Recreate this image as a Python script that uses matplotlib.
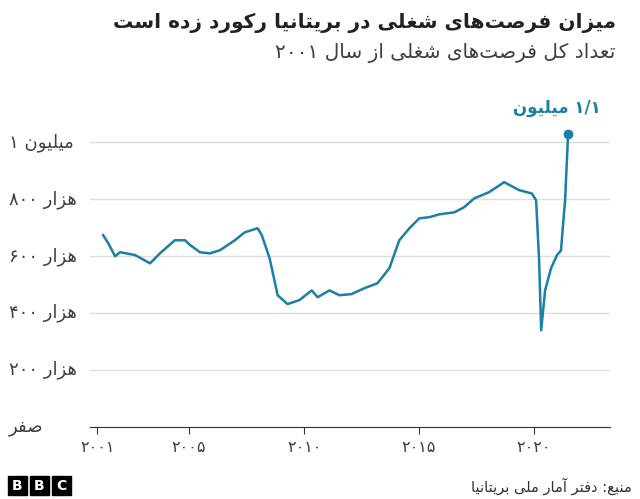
import matplotlib
matplotlib.use("Agg")
import matplotlib.pyplot as plt
import matplotlib.transforms as mtransforms
from matplotlib.patches import Rectangle

plt.rcParams['font.family'] = ['DejaVu Sans']

# === Data (vacancies, thousands) ===
years = [2001.26, 2001.48, 2001.78, 2002.0, 2002.65, 2003.3, 2003.73, 2004.38, 2004.82,
         2005.03, 2005.47, 2005.9, 2006.34, 2006.99, 2007.42, 2007.98, 2008.16, 2008.5,
         2008.85, 2009.28, 2009.8, 2010.33, 2010.59, 2011.1, 2011.54, 2012.06, 2012.63,
         2013.19, 2013.71, 2014.14, 2014.58, 2015.01, 2015.45, 2015.88, 2016.53, 2016.96,
         2017.4, 2018.05, 2018.7, 2019.35, 2019.91, 2020.09, 2020.22, 2020.31, 2020.48,
         2020.74, 2021.0, 2021.17, 2021.35, 2021.48]
vacancies = [674, 646, 600, 614, 604, 575, 610, 656, 656,
             640, 614, 610, 621, 656, 684, 698, 674, 593,
             463, 432, 446, 480, 456, 480, 463, 467, 488,
             505, 558, 656, 698, 733, 737, 747, 754, 772,
             803, 825, 860, 832, 820, 796, 586, 340, 480,
             558, 604, 620, 796, 1028]
x_ticks = [2001, 2005, 2010, 2015, 2020]
x_labels = ["۲۰۰۱", "۲۰۰۵", "۲۰۱۰", "۲۰۱۵", "۲۰۲۰"]
y_ticks = [0, 200, 400, 600, 800, 1000]

TITLE = "میزان فرصت‌های شغلی در بریتانیا رکورد زده است"
SUBTITLE = "تعداد کل فرصت‌های شغلی از سال ۲۰۰۱"
SOURCE = "منبع: دفتر آمار ملی بریتانیا"
PEAK = "۱/۱ میلیون"

# === minimal Persian shaping (presentation forms) ===
# letter: (isolated, final, initial, medial); None for right-joining only
FORMS = {
    'ا': ('\uFE8D', '\uFE8E', None, None),
    'آ': ('\uFE81', '\uFE82', None, None),
    'ب': ('\uFE8F', '\uFE90', '\uFE91', '\uFE92'),
    'ت': ('\uFE95', '\uFE96', '\uFE97', '\uFE98'),
    'د': ('\uFEA9', '\uFEAA', None, None),
    'ر': ('\uFEAD', '\uFEAE', None, None),
    'ز': ('\uFEAF', '\uFEB0', None, None),
    'س': ('\uFEB1', '\uFEB2', '\uFEB3', '\uFEB4'),
    'ش': ('\uFEB5', '\uFEB6', '\uFEB7', '\uFEB8'),
    'ص': ('\uFEB9', '\uFEBA', '\uFEBB', '\uFEBC'),
    'ع': ('\uFEC9', '\uFECA', '\uFECB', '\uFECC'),
    'غ': ('\uFECD', '\uFECE', '\uFECF', '\uFED0'),
    'ف': ('\uFED1', '\uFED2', '\uFED3', '\uFED4'),
    'ک': ('\uFED9', '\uFEDA', '\uFEDB', '\uFEDC'),
    'ل': ('\uFEDD', '\uFEDE', '\uFEDF', '\uFEE0'),
    'م': ('\uFEE1', '\uFEE2', '\uFEE3', '\uFEE4'),
    'ن': ('\uFEE5', '\uFEE6', '\uFEE7', '\uFEE8'),
    'ه': ('\uFEE9', '\uFEEA', '\uFEEB', '\uFEEC'),
    'و': ('\uFEED', '\uFEEE', None, None),
    'ی': ('\uFEEF', '\uFEF0', '\uFEF3', '\uFEF4'),
}
DIGITS = set("۰۱۲۳۴۵۶۷۸۹/")


def joins_left(c):
    return c in FORMS and FORMS[c][2] is not None


def fa(text):
    out = []
    for i, c in enumerate(text):
        if c == '\u200c':
            continue
        if c not in FORMS:
            out.append(c)
            continue
        prev = text[i - 1] if i > 0 else ''
        nxt = text[i + 1] if i + 1 < len(text) else ''
        r = joins_left(prev)
        l = joins_left(c) and nxt in FORMS
        iso, fin, ini, med = FORMS[c]
        if r and l:
            out.append(med)
        elif r:
            out.append(fin)
        elif l:
            out.append(ini)
        else:
            out.append(iso)
    vis = out[::-1]
    # keep digit runs left-to-right
    res, run = [], []
    for c in vis:
        if c in DIGITS:
            run.append(c)
        else:
            res.extend(run[::-1]); run = []
            res.append(c)
    res.extend(run[::-1])
    return ''.join(res)


LINE = '#1b7fa6'
GRID = '#dddddd'
TXT = '#404040'

fig = plt.figure(figsize=(6.4, 4.99), dpi=100)
ax = fig.add_axes([0.141, 0.144, 0.812, 0.628])
ax.plot(years, vacancies, color=LINE, linewidth=1.8, solid_joinstyle='round')
ax.plot(years[-1], vacancies[-1], 'o', color=LINE, markersize=6, clip_on=False)
ax.text(years[-1] - 0.5, vacancies[-1] + 60, fa(PEAK), color=LINE, fontsize=12,
        fontweight='bold', ha='center', va='bottom')

ax.set_xlim(2000.7, 2023.3)
ax.set_ylim(0, 1100)
ax.set_yticks(y_ticks)
ax.yaxis.grid(True, color=GRID, linewidth=1)
ax.set_axisbelow(True)
ax.tick_params(axis='y', length=0, labelleft=False)
ax.set_xticks(x_ticks)
ax.set_xticklabels(x_labels, fontsize=11.5, color=TXT)
ax.tick_params(axis='x', length=5, color='#333333', pad=4)
for s in ['top', 'right', 'left']:
    ax.spines[s].set_visible(False)
ax.spines['bottom'].set_color('#333333')

trans = mtransforms.blended_transform_factory(fig.transFigure, ax.transData)
ylab = {0: fa("صفر"), 1000: "۱ " + fa("میلیون")}
for v, d in zip([200, 400, 600, 800], ["۲۰۰", "۴۰۰", "۶۰۰", "۸۰۰"]):
    ylab[v] = d + " " + fa("هزار")
for v in y_ticks:
    ax.text(0.014, v, ylab[v], transform=trans, fontsize=13, color=TXT,
            ha='left', va='center')

fig.text(0.962, 0.955, fa(TITLE), fontsize=14.5, fontweight='bold', ha='right', va='center',
         color='#222222')
fig.text(0.962, 0.893, fa(SUBTITLE), fontsize=14.5, ha='right', va='center', color=TXT)
fig.text(0.988, 0.025, fa(SOURCE), fontsize=10.5, ha='right', va='center', color='#333333')

# BBC blocks
for i, ch in enumerate("BBC"):
    x0 = (8 + i * 22) / 640
    fig.patches.append(Rectangle((x0, 0.008), 19 / 640, 19 / 499, transform=fig.transFigure,
                                 color='black'))
    fig.text(x0 + 9.5 / 640, 0.008 + 9.5 / 499, ch, color='white', fontsize=10,
             fontweight='bold', ha='center', va='center')

fig.savefig('out.png', dpi=100)
